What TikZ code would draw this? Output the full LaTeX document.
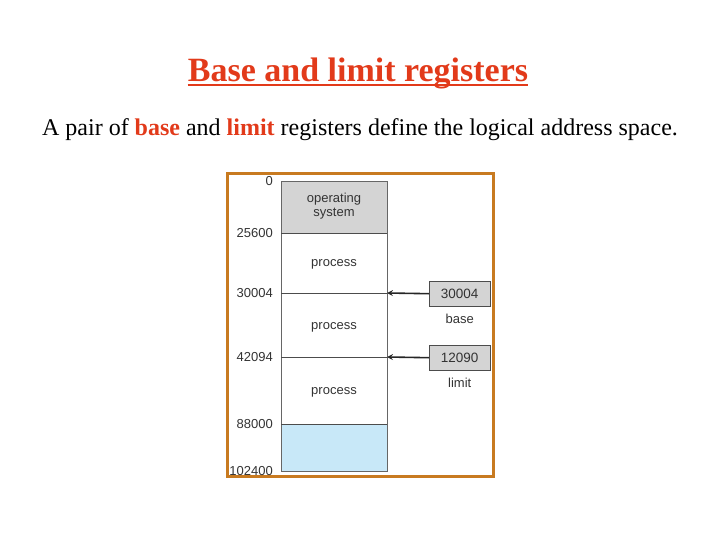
\documentclass[tikz,border=0pt]{standalone}
\usepackage{fontspec}
\setmainfont{Liberation Serif}
\newfontfamily\arialf{Liberation Sans}
\usetikzlibrary{positioning}
\definecolor{ttl}{HTML}{E23A1A}
\definecolor{frm}{HTML}{C87A20}
\definecolor{osg}{HTML}{D4D4D4}
\definecolor{blu}{HTML}{C8E8F8}
\definecolor{txg}{HTML}{333333}
\begin{document}
\begin{tikzpicture}[x=1pt,y=-1pt,
  lbl/.style={font=\arialf\fontsize{13}{14.5}\selectfont,text=txg,inner sep=0pt},
  reg/.style={draw=black!70,fill=osg,minimum width=61pt,minimum height=25pt,anchor=north west,inner sep=0pt,font=\arialf\fontsize{13.5}{15}\selectfont,text=txg},
  arr/.style={-stealth,line width=1.6pt,black!85}]
\useasboundingbox (0,0) rectangle (720,540);
\node[font=\fontsize{34}{38}\selectfont\bfseries,text=ttl,inner sep=0pt] (title) at (358,73) {Base and limit registers};
\draw[ttl,line width=1.5pt] ([yshift=-4pt]title.base west) -- ([yshift=-4pt]title.base east);
\node[font=\fontsize{24}{28}\selectfont] (sub) at (360,130) {A pair of \textcolor{ttl}{\textbf{base}} and \textcolor{ttl}{\textbf{limit}} registers define the logical address space.};
\draw[frm,line width=3pt] (227,174) rectangle (493,476);
\fill[osg] (281,181) rectangle (387,233);
\fill[blu] (281,424) rectangle (387,471);
\draw[black!60,line width=0.5pt] (281,181) rectangle (387,471);
\foreach \y in {233,293,357,424} \draw[black!70,line width=0.6pt] (281,\y) -- (387,\y);
\node[lbl,align=center] (os) at (334,206) {operating\\system};
\node[lbl] (p1) at (334,264) {process};
\node[lbl] (p2) at (334,327) {process};
\node[lbl] (p3) at (334,392) {process};
\foreach \y/\t in {181/0,233/25600,293/30004,357/42094,424/88000,471/102400}
  \node[lbl,anchor=east] at (273,\y) {\t};
\node[reg] (b) at (429,281) {30004};
\node[reg] (l) at (429,345) {12090};
\node[lbl,below=7pt of b] (bl) {base};
\node[lbl,below=7pt of l] (ll) {limit};
\coordinate (ba) at (387,293);
\coordinate (la) at (387,357);
\draw[arr] (b.west) -- (ba);
\draw[arr] (l.west) -- (la);
\end{tikzpicture}
\end{document}
